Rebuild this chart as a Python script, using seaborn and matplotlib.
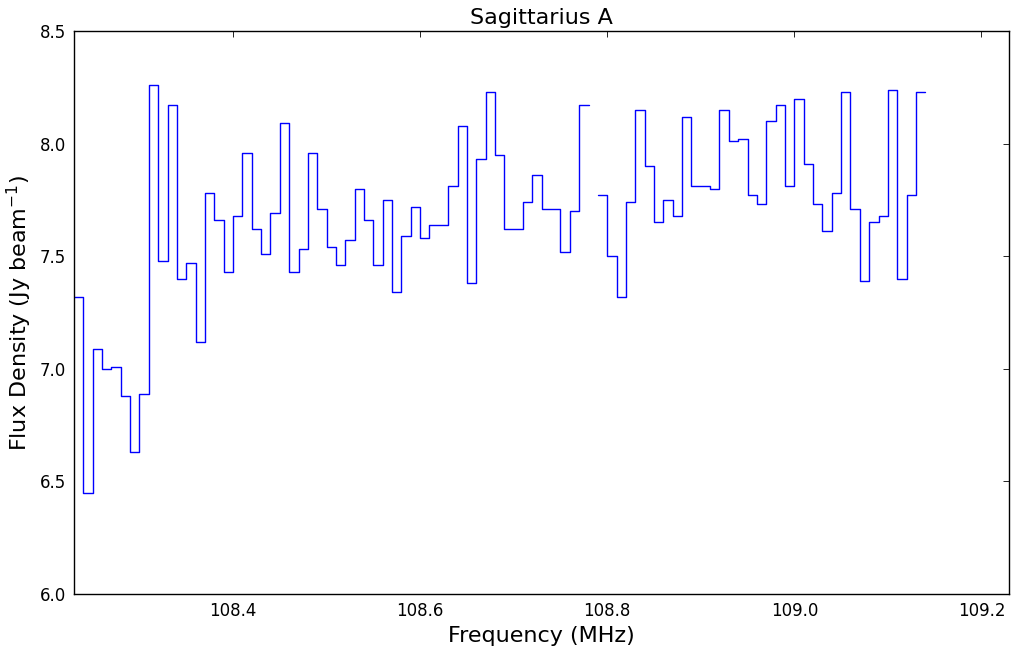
import numpy as np
import pandas as pd
import matplotlib
matplotlib.use("Agg")
import matplotlib.pyplot as plt
import seaborn as sns

# ---- data (one value per 10 kHz channel; NaN = flagged channel) ----
freq_start = 108.23      # MHz, lower edge of first channel
channel_width = 0.01     # MHz
flux_seg1 = [7.32, 6.45, 7.09, 7.00, 7.01, 6.88, 6.63, 6.89, 8.26, 7.48,
             8.17, 7.40, 7.47, 7.12, 7.78, 7.66, 7.43, 7.68, 7.96, 7.62,
             7.51, 7.69, 8.09, 7.43, 7.53, 7.96, 7.71, 7.54, 7.46, 7.57,
             7.80, 7.66, 7.46, 7.75, 7.34, 7.59, 7.72, 7.58, 7.64, 7.64,
             7.81, 8.08, 7.38, 7.93, 8.23, 7.95, 7.62, 7.62, 7.74, 7.86,
             7.71, 7.71, 7.52, 7.70, 8.17]
flux_gap = [np.nan]
flux_seg2 = [7.77, 7.50, 7.32, 7.74, 8.15, 7.90, 7.65, 7.75, 7.68, 8.12,
             7.81, 7.81, 7.80, 8.15, 8.01, 8.02, 7.77, 7.73, 8.10, 8.17,
             7.81, 8.20, 7.91, 7.73, 7.61, 7.78, 8.23, 7.71, 7.39, 7.65,
             7.68, 8.24, 7.40, 7.77, 8.23]
flux = flux_seg1 + flux_gap + flux_seg2

x_ticks = [108.4, 108.6, 108.8, 109.0, 109.2]
y_ticks = [6.0, 6.5, 7.0, 7.5, 8.0, 8.5]
x_limits = (108.23, 109.23)
y_limits = (6.0, 8.5)

# ---- build step segments (break at NaN channels) ----
rows = []
seg = 0
n = len(flux)
i = 0
while i < n:
    if np.isnan(flux[i]):
        i += 1
        continue
    j = i
    while j < n and not np.isnan(flux[j]):
        j += 1
    for k in range(i, j):
        rows.append((freq_start + k * channel_width, flux[k], seg))
    rows.append((freq_start + j * channel_width, flux[j - 1], seg))
    seg += 1
    i = j
df = pd.DataFrame(rows, columns=["freq", "flux", "seg"])

# ---- style ----
sns.set_style("white")
plt.rcParams.update({
    "font.family": ["DejaVu Sans"],
    "text.color": "black",
    "axes.labelcolor": "black",
    "xtick.direction": "in",
    "ytick.direction": "in",
    "xtick.top": True,
    "ytick.right": True,
    "xtick.major.size": 4,
    "ytick.major.size": 4,
    "xtick.major.width": 0.6,
    "ytick.major.width": 0.6,
    "axes.edgecolor": "black",
    "axes.linewidth": 1.0,
    "xtick.color": "black",
    "ytick.color": "black",
})

fig = plt.figure(figsize=(10.11, 6.46), dpi=100)
ax = fig.add_axes([0.0732, 0.0805, 0.9253, 0.8715])

sns.lineplot(data=df, x="freq", y="flux", units="seg", estimator=None,
             color="#0000ff", linewidth=1.0, drawstyle="steps-post",
             sort=False, ax=ax, legend=False)

ax.set_xlim(*x_limits)
ax.set_ylim(*y_limits)
ax.set_xticks(x_ticks)
ax.set_yticks(y_ticks)
ax.set_xticklabels([f"{t:.1f}" for t in x_ticks], fontsize=12)
ax.set_yticklabels([f"{t:.1f}" for t in y_ticks], fontsize=12)
ax.tick_params(axis="both", which="both", pad=6, labelcolor="black")
for s in ax.spines.values():
    s.set_visible(True)
    s.set_color("black")

ax.set_xlabel("Frequency (MHz)", fontsize=16, labelpad=4, color="black")
ax.set_ylabel(r"Flux Density (Jy beam$^{-1}$)", fontsize=16, labelpad=4,
              color="black")
ax.set_title("Sagittarius A", fontsize=16, pad=5, color="black")

fig.savefig("out.png", dpi=100)
